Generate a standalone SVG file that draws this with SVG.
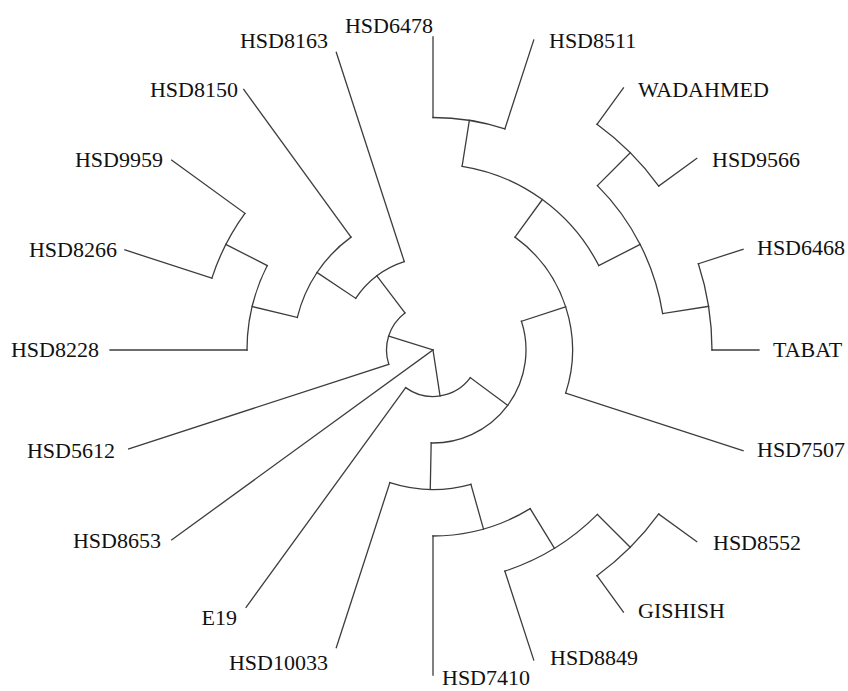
<svg xmlns="http://www.w3.org/2000/svg" width="848" height="691" viewBox="0 0 848 691">
<style>
.br{fill:none;stroke:#3c3c3c;stroke-width:1.3;stroke-linecap:square}
text{font-family:'Liberation Serif','Times New Roman','DejaVu Serif',serif;font-size:22px;fill:#111}
.r{text-anchor:start}
.l{text-anchor:end}
</style>
<rect width="848" height="691" fill="#ffffff"/>
<g id="connectors" class="br">
  <path d="M433,350 L440.05,395.96"/>
  <path d="M433,350 L388.64,336.06"/>
  <path d="M433,350 L171.69,539.86"/>
  <path d="M470.35,377.70 A46.5,46.5 0 0 1 405.67,387.62"/>
  <path d="M405.67,387.62 L246.08,607.27"/>
  <path d="M470.35,377.70 L507.70,405.40"/>
  <path d="M521.45,321.26 A93,93 0 0 1 431.17,442.98"/>
  <path d="M521.45,321.26 L565.67,306.89"/>
  <path d="M515.00,237.14 A139.5,139.5 0 0 1 565.67,393.11"/>
  <path d="M565.67,393.11 L743.05,450.74"/>
  <path d="M515.00,237.14 L542.33,199.52"/>
  <path d="M462.10,166.29 A186,186 0 0 1 598.73,265.56"/>
  <path d="M462.10,166.29 L469.37,120.36"/>
  <path d="M433,117.5 A232.5,232.5 0 0 1 504.85,128.88"/>
  <path d="M433,117.5 L433,37"/>
  <path d="M504.85,128.88 L533.74,39.95"/>
  <path d="M598.73,265.56 L640.16,244.45"/>
  <path d="M597.40,185.60 A232.5,232.5 0 0 1 662.64,313.63"/>
  <path d="M597.40,185.60 L630.28,152.72"/>
  <path d="M596.99,124.28 A279,279 0 0 1 658.72,186.01"/>
  <path d="M596.99,124.28 L623.44,87.88"/>
  <path d="M658.72,186.01 L696.74,158.38"/>
  <path d="M662.64,313.63 L708.57,306.36"/>
  <path d="M698.35,263.78 A279,279 0 0 1 712,350"/>
  <path d="M698.35,263.78 L743.05,249.26"/>
  <path d="M712,350 L759,350"/>
  <path d="M431.17,442.98 L430.26,489.47"/>
  <path d="M470.87,484.26 A139.5,139.5 0 0 1 389.89,482.67"/>
  <path d="M389.89,482.67 L336.28,647.68"/>
  <path d="M470.87,484.26 L483.49,529.02"/>
  <path d="M530.19,508.59 A186,186 0 0 1 433,536"/>
  <path d="M433,536 L433,675"/>
  <path d="M530.19,508.59 L554.48,548.24"/>
  <path d="M597.40,514.40 A232.5,232.5 0 0 1 504.85,571.12"/>
  <path d="M504.85,571.12 L533.74,660.05"/>
  <path d="M597.40,514.40 L630.28,547.28"/>
  <path d="M658.72,513.99 A279,279 0 0 1 596.99,575.72"/>
  <path d="M658.72,513.99 L696.74,541.62"/>
  <path d="M596.99,575.72 L623.44,612.12"/>
  <path d="M388.78,364.37 A46.5,46.5 0 0 1 404.93,312.92"/>
  <path d="M388.78,364.37 L128.66,448.89"/>
  <path d="M404.93,312.92 L376.87,275.85"/>
  <path d="M355.67,298.33 A93,93 0 0 1 404.26,261.55"/>
  <path d="M404.26,261.55 L336.28,52.32"/>
  <path d="M355.67,298.33 L317.01,272.50"/>
  <path d="M297.35,317.43 A139.5,139.5 0 0 1 351.00,237.14"/>
  <path d="M351.00,237.14 L243.73,89.50"/>
  <path d="M297.35,317.43 L252.14,306.58"/>
  <path d="M247,350 A186,186 0 0 1 267.27,265.56"/>
  <path d="M247,350 L110,350"/>
  <path d="M267.27,265.56 L225.84,244.45"/>
  <path d="M211.88,278.15 A232.5,232.5 0 0 1 244.90,213.34"/>
  <path d="M244.90,213.34 L171.69,160.14"/>
  <path d="M211.88,278.15 L124.86,249.88"/>
</g>
<g id="leaf-HSD8511"><text class="r" x="549" y="48">HSD8511</text></g>
<g id="leaf-WADAHMED"><text class="r" x="638" y="97">WADAHMED</text></g>
<g id="leaf-HSD9566"><text class="r" x="712" y="167">HSD9566</text></g>
<g id="leaf-HSD6468"><text class="r" x="757" y="255">HSD6468</text></g>
<g id="leaf-TABAT"><text class="r" x="773" y="357">TABAT</text></g>
<g id="leaf-HSD7507"><text class="r" x="757" y="457">HSD7507</text></g>
<g id="leaf-HSD8552"><text class="r" x="713" y="550">HSD8552</text></g>
<g id="leaf-GISHISH"><text class="r" x="638" y="618">GISHISH</text></g>
<g id="leaf-HSD8849"><text class="r" x="550" y="665">HSD8849</text></g>
<g id="leaf-HSD7410"><text class="r" x="442" y="685">HSD7410</text></g>
<g id="leaf-HSD6478"><text class="l" x="433" y="33">HSD6478</text></g>
<g id="leaf-HSD8163"><text class="l" x="328" y="48">HSD8163</text></g>
<g id="leaf-HSD8150"><text class="l" x="238" y="97">HSD8150</text></g>
<g id="leaf-HSD9959"><text class="l" x="163" y="167">HSD9959</text></g>
<g id="leaf-HSD8266"><text class="l" x="117" y="257">HSD8266</text></g>
<g id="leaf-HSD8228"><text class="l" x="99" y="357">HSD8228</text></g>
<g id="leaf-HSD5612"><text class="l" x="115" y="458">HSD5612</text></g>
<g id="leaf-HSD8653"><text class="l" x="161" y="548">HSD8653</text></g>
<g id="leaf-E19"><text class="l" x="237" y="625">E19</text></g>
<g id="leaf-HSD10033"><text class="l" x="328" y="670">HSD10033</text></g>
</svg>
